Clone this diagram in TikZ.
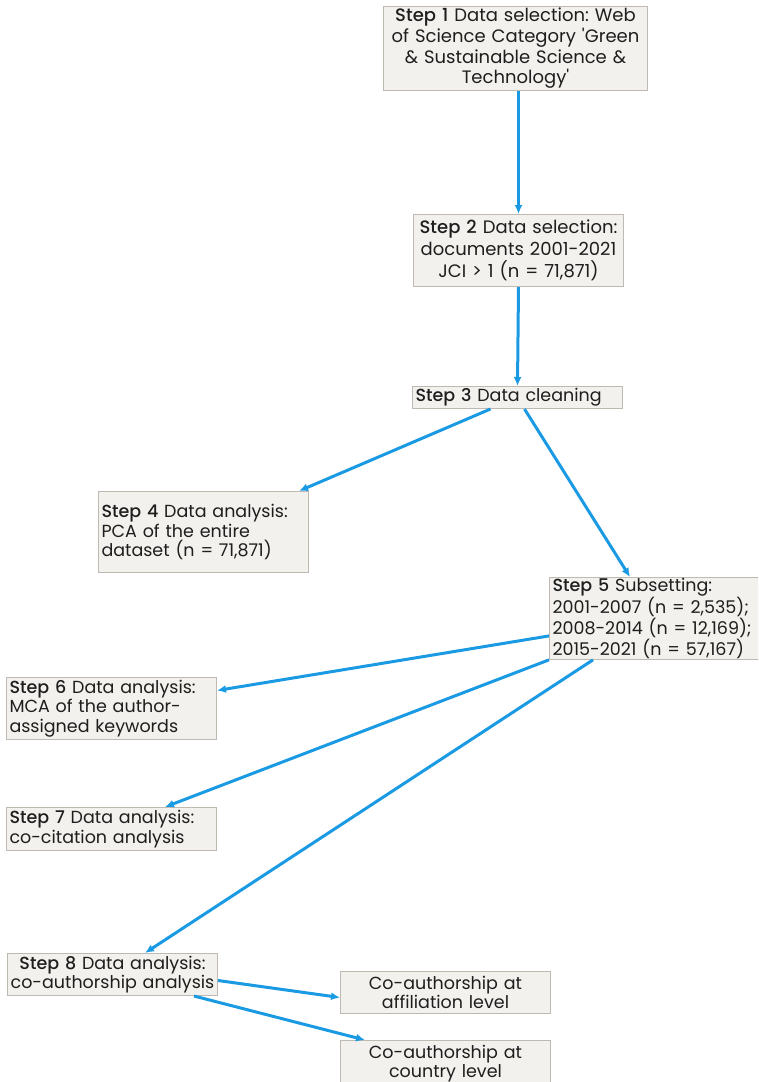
\documentclass[tikz,border=0pt]{standalone}
\usepackage{fontspec}
\setmainfont{Poppins}[BoldFont={Poppins Medium}]
\usepackage{tikz}
\usetikzlibrary{arrows.meta}
\definecolor{boxfill}{RGB}{243,241,237}
\definecolor{boxedge}{RGB}{190,185,177}
\definecolor{flowblue}{RGB}{27,154,228}
\definecolor{steptext}{RGB}{30,30,30}
\newcommand{\stp}[1]{\textbf{Step #1}}

\begin{document}
\begin{tikzpicture}[
    x=1pt, y=-1pt,
    stepbox/.style={rectangle, draw=boxedge, fill=boxfill, line width=1pt, anchor=north west, inner xsep=3pt, inner ysep=1pt, text width=204pt, align=left, font=\fontsize{17.5}{19.5}\selectfont\frenchspacing, text=steptext},
    midbox/.style={stepbox, align=center},
    flow/.style={draw=flowblue, line width=3pt, -{Latex[length=9pt,width=8pt]}},
]
\clip (0,0) rectangle (758,1082);

% Selection and cleaning
\node[midbox, text width=260pt, inner xsep=2pt, minimum height=84pt, font=\fontsize{18}{20.7}\selectfont\frenchspacing] (s1) at (383,6) {\stp{1} Data selection: Web\\ of Science Category \textquotesingle Green\\ \& Sustainable Science \&\\ Technology\textquotesingle};
\node[midbox, minimum height=72pt, font=\fontsize{18}{22}\selectfont\frenchspacing] (s2) at (413,214) {\stp{2} Data selection:\\ documents 2001-2021\\ JCI > 1 (n = 71,871)};
\node[stepbox, minimum height=22pt] (s3) at (412,386) {\stp{3} Data cleaning};

% Whole dataset and subsets
\node[stepbox, minimum height=81pt] (s4) at (98,491) {\stp{4} Data analysis:\\ PCA of the entire\\ dataset (n = 71,871)};
\node[stepbox, minimum height=81pt] (s5) at (549,577) {\stp{5} Subsetting:\\ 2001-2007 (n = 2,535);\\ 2008-2014 (n = 12,169);\\ 2015-2021 (n = 57,167)};

% Analyses
\node[stepbox, minimum height=62pt] (s6) at (6,677) {\stp{6} Data analysis:\\ MCA of the author-\\ assigned keywords};
\node[stepbox, minimum height=43pt] (s7) at (6,807) {\stp{7} Data analysis:\\ co-citation analysis};
\node[midbox, minimum height=42pt] (s8) at (7,953) {\stp{8} Data analysis:\\ co-authorship analysis};
\node[midbox, minimum height=42pt] (aff) at (340,971) {Co-authorship at\\ affiliation level};
\node[midbox, minimum height=46pt] (ctry) at (340,1040) {Co-authorship at\\ country level};

% Arrows
\draw[flow] (s1.south -| s2.north) -- (s2.north);
\draw[flow] (s2.south) -- (s3.north);
\draw[flow] ([xshift=-27pt]s3.south) -- ([xshift=-10pt]s4.north east);
\draw[flow] ([xshift=7pt]s3.south) -- ([xshift=81pt]s5.north west);
\draw[flow] ([yshift=-17.5pt]s5.west) -- ([yshift=18pt]s6.east);
\draw[flow] (s5.south west) -- ([xshift=159pt]s7.north west);
\draw[flow] ([xshift=44pt]s5.south west) -- ([xshift=138pt]s8.north west);
\draw[flow] ([yshift=-6pt]s8.east) -- ([yshift=-5pt]aff.west);
\draw[flow] ([xshift=-24pt]s8.south east) -- ([xshift=25pt]ctry.north west);

\end{tikzpicture}
\end{document}
